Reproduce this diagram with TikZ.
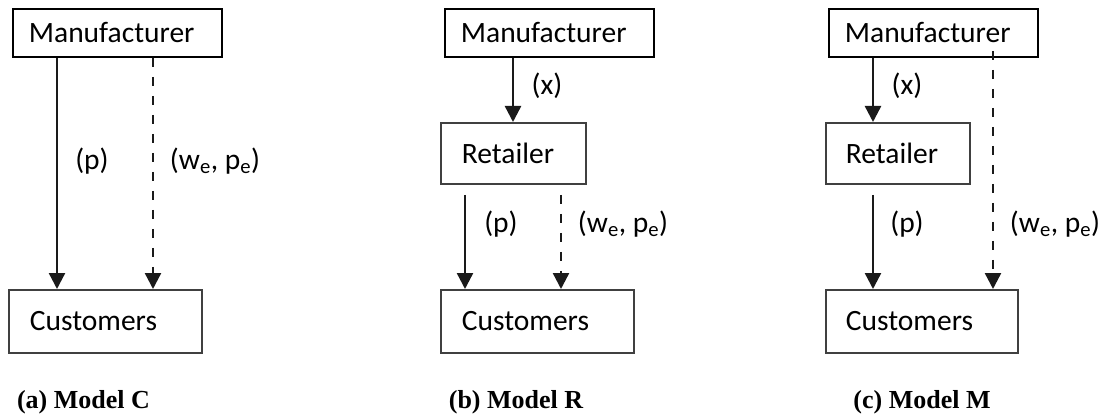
\documentclass[tikz,border=0pt]{standalone}
\usepackage{fontspec}
\setmainfont{Carlito}
\newfontfamily\capfont{Liberation Serif}
\usetikzlibrary{arrows.meta,calc}
\definecolor{boxgray}{HTML}{404040}
\definecolor{arrgray}{HTML}{1A1A1A}
\begin{document}
\begin{tikzpicture}[x=1pt,y=-1pt,
  every node/.style={font=\fontsize{29.5}{33}\selectfont},
  box/.style={draw=boxgray, line width=1.8pt, anchor=north west, align=left, inner ysep=0pt},
  mbox/.style={box, draw=black, minimum height=48pt, inner xsep=16pt, text width=177pt},
  rbox/.style={box, minimum height=61pt},
  cbox/.style={box, minimum height=63pt},
  arr/.style={draw=arrgray, line width=2.4pt, -{Triangle[width=16pt,length=16pt]}},
  darr/.style={arr, dash pattern=on 9pt off 10pt},
  lbl/.style={inner sep=0pt},
  captxt/.style={font=\capfont\bfseries\fontsize{26}{30}\selectfont, inner sep=0pt}]
\useasboundingbox (0,0) rectangle (1101,417);
% ---------- (a) ----------
\node[mbox] (mA) at (12,8) {Manufacturer};
\node[cbox, inner xsep=21pt, text width=151pt] (cA) at (8,289) {Customers};
\draw[arr] ([xshift=45pt]mA.south west) -- ([xshift=49pt]cA.north west);
\draw[darr] ([xshift=141pt]mA.south west) -- ([xshift=145pt]cA.north west);
\node[lbl] (pA) at (92,161) {(p)};
\node[lbl] (wA) at (215,161) {(w\textsubscript{e}, p\textsubscript{e})};
\node[captxt] (capA) at (83.5,402) {(a) Model C};
% ---------- (b) ----------
\node[mbox] (mB) at (444,8) {Manufacturer};
\node[rbox, inner xsep=21pt, text width=103pt] (rB) at (440,122) {Retailer};
\node[cbox, inner xsep=21pt, text width=151pt] (cB) at (440,289) {Customers};
\draw[arr] ([xshift=69pt]mB.south west) -- ([xshift=73pt]rB.north west);
\draw[arr] ([xshift=25pt,yshift=-10pt]rB.south west) -- ([xshift=25pt]cB.north west);
\draw[darr] ([xshift=121pt,yshift=-10pt]rB.south west) -- ([xshift=121pt]cB.north west);
\node[lbl] (xB) at (547,86) {(x)};
\node[lbl] (pB) at (501,224) {(p)};
\node[lbl] (wB) at (623,224) {(w\textsubscript{e}, p\textsubscript{e})};
\node[captxt] (capB) at (516,402) {(b) Model R};
% ---------- (c) ----------
\node[mbox] (mC) at (828,8) {Manufacturer};
\node[rbox, inner xsep=20pt, text width=104pt] (rC) at (825,122) {Retailer};
\node[cbox, inner xsep=20pt, text width=152pt] (cC) at (825,289) {Customers};
\draw[arr] ([xshift=45pt]mC.south west) -- ([xshift=48pt]rC.north west);
\draw[arr] ([xshift=48pt,yshift=-10pt]rC.south west) -- ([xshift=48pt]cC.north west);
\draw[darr] ([xshift=165pt,yshift=7pt]mC.south west) -- ([xshift=168pt]cC.north west);
\node[lbl] (xC) at (907,86) {(x)};
\node[lbl] (pC) at (907,224) {(p)};
\node[lbl] (wC) at (1055,224) {(w\textsubscript{e}, p\textsubscript{e})};
\node[captxt] (capC) at (922,402) {(c) Model M};
\end{tikzpicture}
\end{document}
